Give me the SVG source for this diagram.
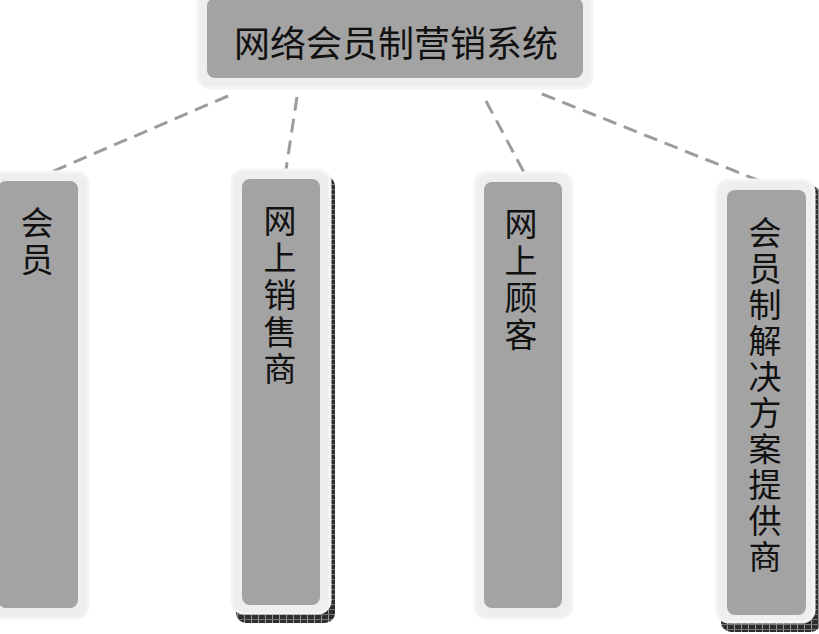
<svg xmlns="http://www.w3.org/2000/svg" width="819" height="634" viewBox="0 0 819 634">
<defs>
<pattern id="hatch" width="7" height="5" patternUnits="userSpaceOnUse">
<rect width="7" height="5" fill="#2e2e2e"/>
<rect x="6" y="0" width="1" height="5" fill="#9a9a9a"/>
<rect x="0" y="4" width="7" height="1" fill="#777"/>
</pattern>
</defs>
<style>
.halo{fill:#eeeeee;stroke:#f4f4f4;stroke-width:3}
.box{fill:#a3a3a3}
.shadow{fill:url(#hatch)}
.lbl{font-family:"Noto Sans CJK SC","Noto Sans",sans-serif;fill:#111}
.t{font-size:36px;text-anchor:middle;dominant-baseline:central}
.v{font-size:33px;writing-mode:vertical-rl;letter-spacing:4px}
.conn{stroke:#9c9c9c;stroke-width:3;stroke-dasharray:14 8;fill:none}
</style>
<rect x="0" y="0" width="819" height="634" fill="#ffffff"/>
<g id="connectors">
<line class="conn" x1="228" y1="96" x2="42" y2="176"/>
<line class="conn" x1="297" y1="97" x2="285" y2="176"/>
<line class="conn" x1="486" y1="101" x2="527" y2="178"/>
<line class="conn" x1="542" y1="94" x2="770" y2="185"/>
</g>
<g id="top">
<rect class="halo" x="198" y="-12" width="394" height="100" rx="12"/>
<rect class="box" x="207" y="-2" width="376" height="80" rx="8"/>
<text class="lbl t" x="396" y="41">网络会员制营销系统</text>
</g>
<g id="n1">
<rect class="halo" x="-12" y="172" width="100" height="446" rx="12"/>
<rect class="box" x="-2" y="181" width="80" height="427" rx="8"/>
<text class="lbl v" x="37" y="206"><tspan>会</tspan><tspan>员</tspan></text>
</g>
<g id="n2">
<rect class="shadow" x="236" y="176" width="99" height="447" rx="10"/>
<rect class="halo" x="232" y="170" width="98" height="443" rx="12"/>
<rect class="box" x="242" y="179" width="78" height="426" rx="8"/>
<text class="lbl v" x="280" y="204"><tspan>网</tspan><tspan>上</tspan><tspan>销</tspan><tspan>售</tspan><tspan>商</tspan></text>
</g>
<g id="n3">
<rect class="halo" x="475" y="173" width="97" height="445" rx="12"/>
<rect class="box" x="484" y="182" width="78" height="426" rx="8"/>
<text class="lbl v" x="521" y="207"><tspan>网</tspan><tspan>上</tspan><tspan>顾</tspan><tspan>客</tspan></text>
</g>
<g id="n4">
<rect class="shadow" x="721" y="186" width="100" height="446" rx="10"/>
<rect class="halo" x="717" y="180" width="97" height="442" rx="12"/>
<rect class="box" x="727" y="190" width="79" height="425" rx="8"/>
<text class="lbl v" x="765" y="216" style="letter-spacing:3px"><tspan>会</tspan><tspan>员</tspan><tspan>制</tspan><tspan>解</tspan><tspan>决</tspan><tspan>方</tspan><tspan>案</tspan><tspan>提</tspan><tspan>供</tspan><tspan>商</tspan></text>
</g>
</svg>
